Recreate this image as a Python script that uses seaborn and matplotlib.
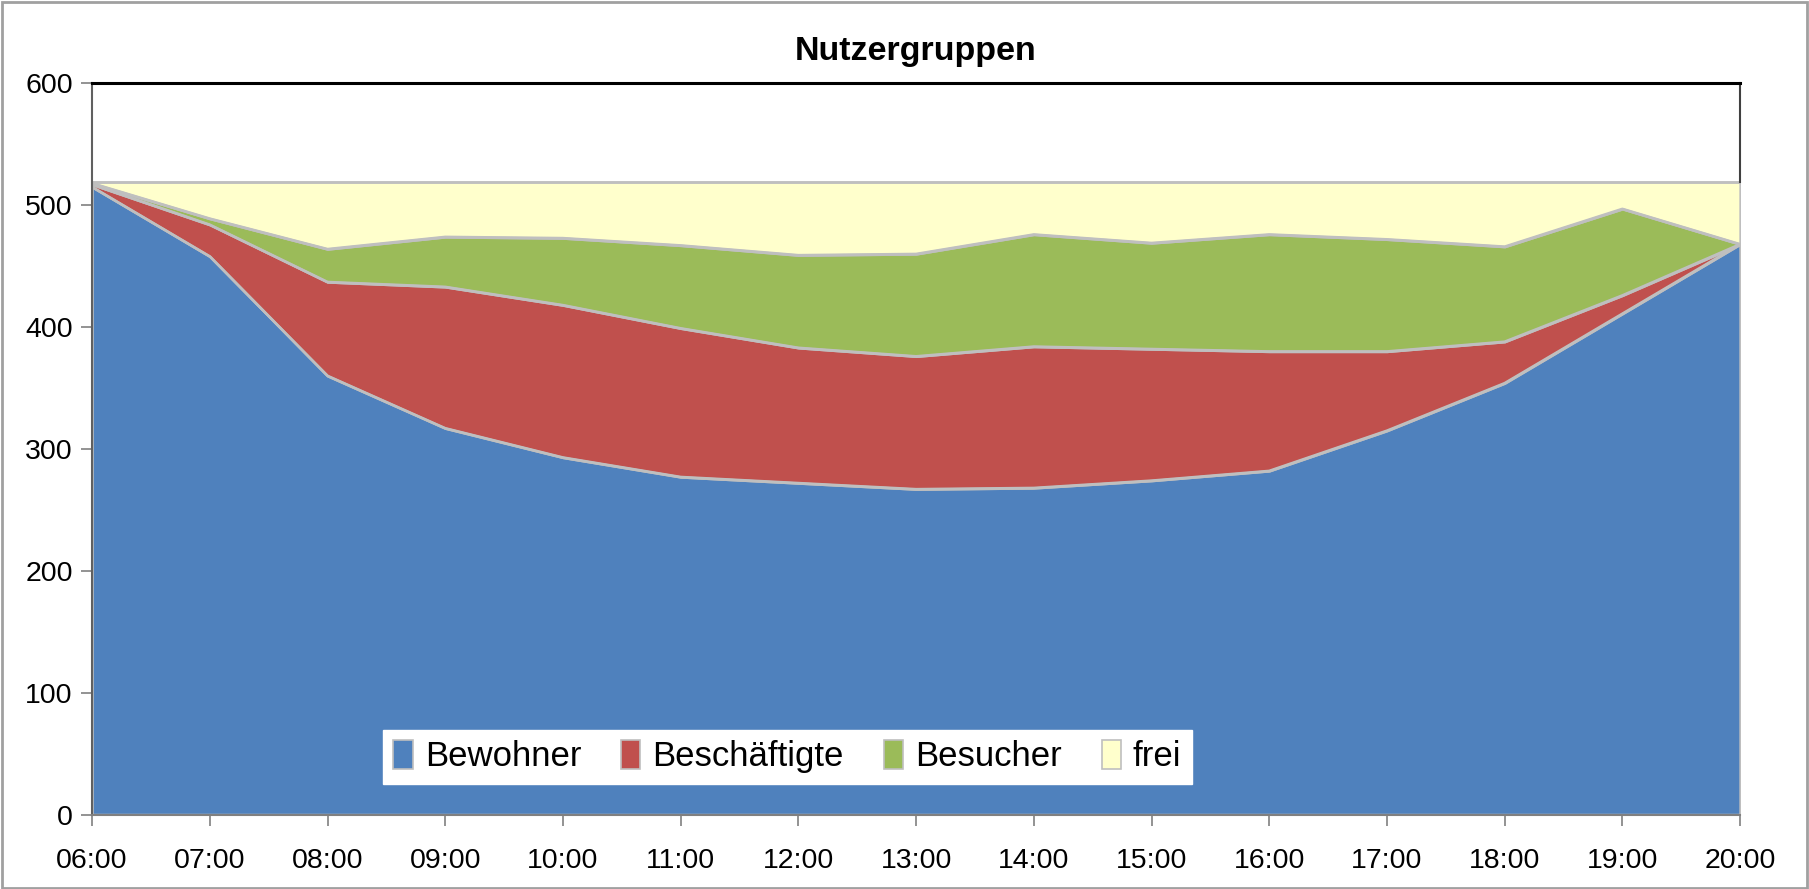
import matplotlib
matplotlib.use("Agg")
import matplotlib.pyplot as plt
import seaborn as sns
import numpy as np
from matplotlib.patches import Rectangle, Patch

times = ["06:00", "07:00", "08:00", "09:00", "10:00", "11:00", "12:00", "13:00",
         "14:00", "15:00", "16:00", "17:00", "18:00", "19:00", "20:00"]
bewohner = [515, 458, 360, 317, 293, 277, 272, 267, 268, 274, 282, 315, 354, 411, 468]
beschaeftigte = [2, 26, 77, 116, 125, 122, 111, 109, 116, 108, 98, 65, 34, 15, 0]
besucher = [1, 5, 27, 41, 55, 68, 76, 84, 92, 87, 96, 92, 78, 71, 0]
frei = [1, 30, 55, 45, 46, 52, 60, 59, 43, 50, 43, 47, 53, 22, 51]
series_names = ["Bewohner", "Beschäftigte", "Besucher", "frei"]
colors = ["#4F81BD", "#C0504D", "#9BBB59", "#FFFFCC"]

sns.set_theme(style="white")
plt.rcParams["font.family"] = ["Liberation Sans", "DejaVu Sans"]
plt.rcParams["text.color"] = "black"

fig = plt.figure(figsize=(18.09, 8.89), dpi=100)
ax = fig.add_axes([0.0509, 0.0838, 0.911, 0.8225])

x = np.arange(len(times))
ax.stackplot(x, bewohner, beschaeftigte, besucher, frei, colors=colors,
             edgecolor="#BFBFBF", linewidth=1.8, labels=series_names)

# boundary lines via seaborn
cum = np.cumsum(np.vstack([bewohner, beschaeftigte, besucher, frei]), axis=0)
for row in cum:
    sns.lineplot(x=x, y=row, ax=ax, color="#BFBFBF", linewidth=1.8, legend=False)

ax.set_xlim(0, len(times) - 1)
ax.set_ylim(0, 600)
ax.set_yticks([0, 100, 200, 300, 400, 500, 600])
ax.set_xticks(x)
ax.set_xticklabels(times)
ax.tick_params(axis="both", labelsize=20.5, colors="black", length=8, width=1.2,
               direction="out", bottom=True, left=True)
ax.tick_params(axis="x", pad=16, color="#808080")
ax.tick_params(axis="y", pad=6, color="#808080")

ax.spines["top"].set_color("black")
ax.spines["top"].set_linewidth(2.2)
ax.spines["right"].set_color("#404040")
ax.spines["right"].set_linewidth(1.5)
ax.spines["right"].set_bounds(519, 600)
ax.spines["left"].set_color("#606060")
ax.spines["left"].set_linewidth(1.5)
ax.spines["bottom"].set_color("#808080")
ax.spines["bottom"].set_linewidth(1.5)

ax.set_title("Nutzergruppen", fontsize=24.5, fontweight="bold", pad=17, color="black")

handles = [Patch(facecolor=c, edgecolor="#BFBFBF", linewidth=1.2) for c in colors]
leg = ax.legend(handles, series_names, loc="center", bbox_to_anchor=(0.4353, 0.1488),
                bbox_transform=fig.transFigure, ncol=4, fontsize=25, frameon=True,
                fancybox=False, framealpha=1, edgecolor="white", handlelength=0.55,
                handleheight=0.9, handletextpad=0.35, columnspacing=1.15,
                borderpad=0.3, labelcolor="black")
leg.get_frame().set_facecolor("white")

fig.patches.append(Rectangle((0.001, 0.001), 0.998, 0.997, transform=fig.transFigure,
                             fill=False, edgecolor="#A0A0A0", linewidth=2))

fig.savefig("out.png", dpi=100, facecolor="white")
